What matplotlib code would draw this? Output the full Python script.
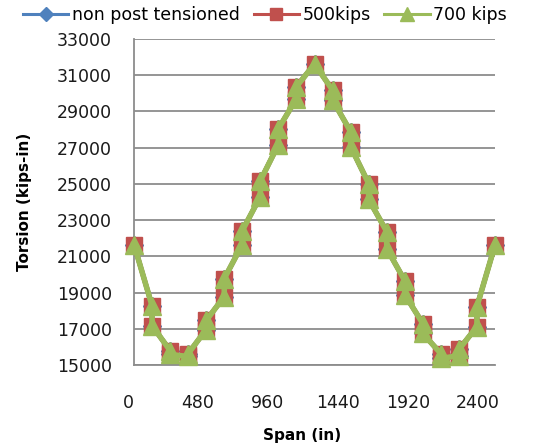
import matplotlib
matplotlib.use("Agg")
import matplotlib.pyplot as plt
from matplotlib.transforms import ScaledTranslation

# Data: stations (in) – each interior station has a left and right value
span = [0, 120, 120, 240, 240, 360, 360, 480, 480, 600, 600, 720, 720, 840, 840,
        960, 960, 1080, 1080, 1200, 1320, 1320, 1440, 1440, 1560, 1560, 1680, 1680,
        1800, 1800, 1920, 1920, 2040, 2040, 2160, 2160, 2280, 2280, 2400]
torsion_700 = [21650, 18270, 17170, 15800, 15580, 15470, 15630, 16960, 17460, 18780, 19770,
               21650, 22420, 24300, 25180, 27170, 28050, 29710, 30370, 31620,
               30180, 29630, 27890, 27060, 25020, 24140, 22370, 21430, 19660, 18890,
               17290, 16740, 15630, 15360, 15520, 15860, 17120, 18230, 21620]
torsion_500 = list(torsion_700)
torsion_non_pt = list(torsion_700)

series_names = ["non post tensioned", "500kips", "700 kips"]
x_ticks = [0, 480, 960, 1440, 1920, 2400]
y_ticks = [15000, 17000, 19000, 21000, 23000, 25000, 27000, 29000, 31000, 33000]

plt.rcParams['font.family'] = ['DejaVu Sans']

fig = plt.figure(figsize=(5.42, 4.48), dpi=100)
ax = fig.add_axes([134/542, 1-365/448, (495-134)/542, (365-39)/448])

ax.plot(span, torsion_non_pt, color='#4F81BD', lw=3.5, marker='D', ms=9,
        mec='#4F81BD', mfc='#4F81BD', clip_on=False, zorder=3, label=series_names[0])
ax.plot(span, torsion_500, color='#C0504D', lw=3.5, marker='s', ms=12,
        mec='#C0504D', mfc='#C0504D', clip_on=False, zorder=4, label=series_names[1])
ax.plot(span, torsion_700, color='#9BBB59', lw=4, marker='^', ms=12.5,
        mec='#9BBB59', mfc='#9BBB59', clip_on=False, zorder=5, label=series_names[2])

ax.set_xlim(0, 2400)
ax.set_ylim(15000, 33000)
ax.set_yticks(y_ticks)
ax.set_yticklabels([str(v) for v in y_ticks])
ax.set_xticks(x_ticks)
ax.set_xticklabels([str(v) for v in x_ticks])
ax.yaxis.grid(True, color='#8C8C8C', lw=1.3)
ax.set_axisbelow(True)
for s in ['top', 'right']:
    ax.spines[s].set_visible(False)
for s in ['left', 'bottom']:
    ax.spines[s].set_color('#8C8C8C')
    ax.spines[s].set_linewidth(1.3)
ax.tick_params(axis='y', length=0, pad=16, labelsize=12.5, colors='#1a1a1a')
ax.tick_params(axis='x', length=0, pad=21, labelsize=12.5, colors='#1a1a1a')

# reference tick labels sit slightly left of their ticks, increasingly to the right
for v, lab in zip(x_ticks, ax.get_xticklabels()):
    shift_px = -6 - 11 * v / 2400
    lab.set_transform(lab.get_transform() + ScaledTranslation(shift_px / 100, 0, fig.dpi_scale_trans))

fig.text(302/542, 1-435/448, "Span (in)", ha='center', va='center',
         fontsize=11, fontweight='bold')
fig.text(25/542, 1-202/448, "Torsion (kips-in)", ha='center', va='center',
         rotation=90, fontsize=11, fontweight='bold')

handles, labels = ax.get_legend_handles_labels()
leg = fig.legend(handles, labels, loc='center', bbox_to_anchor=(265/542, 1-15/448),
                 ncol=3, frameon=False, fontsize=12.5, handlelength=2.6,
                 columnspacing=0.8, handletextpad=0.2, markerscale=0.75)
for ln in leg.get_lines():
    ln.set_linewidth(2.2)

fig.savefig("out.png", dpi=100)
